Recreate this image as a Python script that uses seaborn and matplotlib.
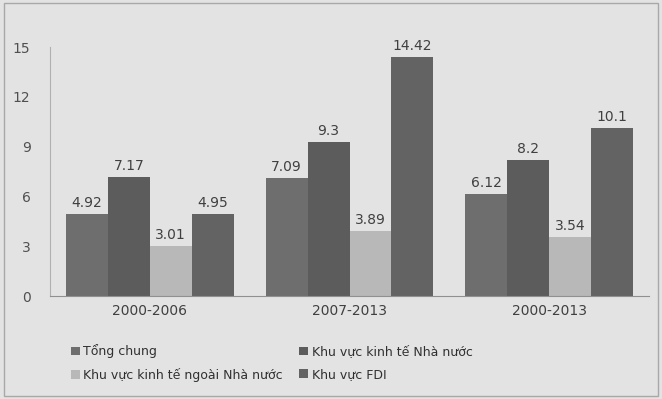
import matplotlib
matplotlib.use("Agg")
import matplotlib.pyplot as plt
import seaborn as sns
import pandas as pd
from matplotlib.patches import Rectangle

periods = ["2000-2006", "2007-2013", "2000-2013"]
series = ["Tổng chung", "Khu vực kinh tế Nhà nước",
          "Khu vực kinh tế ngoài Nhà nước", "Khu vực FDI"]
tong_chung = [4.92, 7.09, 6.12]
nha_nuoc = [7.17, 9.3, 8.2]
ngoai_nha_nuoc = [3.01, 3.89, 3.54]
fdi = [4.95, 14.42, 10.1]
labels = [["4.92", "7.09", "6.12"], ["7.17", "9.3", "8.2"],
          ["3.01", "3.89", "3.54"], ["4.95", "14.42", "10.1"]]
yticks = [0, 3, 6, 9, 12, 15]

rows = []
for s, vals in zip(series, [tong_chung, nha_nuoc, ngoai_nha_nuoc, fdi]):
    for p, v in zip(periods, vals):
        rows.append({"period": p, "series": s, "value": v})
df = pd.DataFrame(rows)

sns.set_theme(style="white")
plt.rcParams['font.family'] = ['DejaVu Sans']
bg = "#e3e3e3"
fig = plt.figure(figsize=(6.62, 3.99), dpi=100, facecolor=bg)
ax = fig.add_axes([0.0755, 0.258, 0.905, 0.624])
ax.set_facecolor(bg)

palette = ["#6e6e6e", "#5c5c5c", "#b8b8b8", "#636363"]
sns.barplot(data=df, x="period", y="value", hue="series", hue_order=series,
            order=periods, palette=palette, width=0.84, gap=0, ax=ax,
            saturation=1, edgecolor="none", legend=True)

for cont, labs in zip(ax.containers, labels):
    ax.bar_label(cont, labels=labs, padding=3, fontsize=10, color="#404040")

ax.set_ylim(0, 15)
ax.set_xlim(-0.5, 2.5)
ax.set_yticks(yticks)
ax.set_yticklabels([str(t) for t in yticks], fontsize=10, color="#505050")
ax.tick_params(axis="x", labelsize=10, colors="#404040", length=0, pad=6)
ax.tick_params(axis="y", length=0, pad=14)
ax.set_xlabel("")
ax.set_ylabel("")
for sp in ["top", "right"]:
    ax.spines[sp].set_visible(False)
ax.spines["left"].set_color("#b0b0b0")
ax.spines["bottom"].set_color("#909090")
ax.spines["left"].set_linewidth(0.8)
ax.spines["bottom"].set_linewidth(0.8)

handles, labs = ax.get_legend_handles_labels()
ax.legend_.remove()
order = [0, 2, 1, 3]
fig.legend([handles[i] for i in order], [labs[i] for i in order], ncol=2,
           loc="lower left", bbox_to_anchor=(0.09, 0.015),
           frameon=False, fontsize=9, handlelength=0.7, handleheight=0.7,
           handletextpad=0.3, columnspacing=1.3, labelspacing=0.75,
           labelcolor="#303030")

fig.patches.append(Rectangle((0.006, 0.008), 0.988, 0.985, transform=fig.transFigure,
                             fill=False, edgecolor="#a8a8a8", linewidth=1))

fig.savefig("out.png", dpi=100, facecolor=bg)
